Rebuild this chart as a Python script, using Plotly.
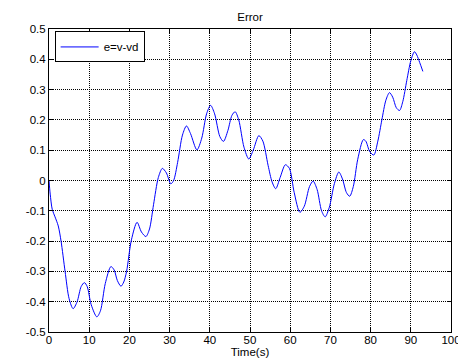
import plotly.graph_objects as go

# Tracking error e = v - vd over time
time_s = [0, 0.3, 0.8, 1.5, 2.3, 3.0, 4.0, 5.0, 6.0, 7.0, 8.0, 8.8, 9.5, 10.5,
          11.9, 12.8, 14.0, 15.4, 16.2, 17.0, 17.9, 18.6, 19.3, 20.5, 21.9,
          23.0, 24.1, 25.0, 26.0, 27.2, 28.2, 29.2, 30.3, 31.0, 32.0, 33.2,
          34.2, 35.2, 36.8, 38.0, 39.2, 40.2, 41.2, 42.5, 43.4, 44.5, 45.5,
          46.3, 47.2, 48.5, 49.7, 50.8, 52.2, 53.2, 54.5, 55.5, 56.4, 57.5,
          58.8, 59.8, 61.0, 62.4, 63.5, 64.8, 65.7, 66.7, 67.8, 68.7, 69.7,
          71.0, 72.1, 73.0, 74.0, 74.8, 75.7, 76.8, 78.2, 78.8, 79.8, 80.8,
          81.8, 82.8, 83.8, 84.7, 85.5, 86.4, 87.2, 88.0, 89.0, 90.0, 90.9,
          91.5, 92.2, 93.0]
error = [0, -0.045, -0.095, -0.12, -0.15, -0.2, -0.3, -0.39, -0.423, -0.40,
         -0.35, -0.337, -0.35, -0.41, -0.45, -0.43, -0.34, -0.284, -0.295,
         -0.33, -0.349, -0.335, -0.30, -0.196, -0.138, -0.17, -0.185, -0.16,
         -0.08, 0.01, 0.040, 0.025, -0.011, 0.0, 0.06, 0.15, 0.18, 0.155,
         0.101, 0.14, 0.22, 0.248, 0.22, 0.145, 0.129, 0.165, 0.215, 0.227,
         0.2, 0.11, 0.071, 0.1, 0.148, 0.13, 0.05, -0.005, -0.027, 0.01,
         0.052, 0.04, -0.04, -0.105, -0.085, -0.02, -0.002, -0.03, -0.1,
         -0.12, -0.09, -0.01, 0.028, 0.005, -0.04, -0.052, -0.02, 0.07,
         0.135, 0.13, 0.095, 0.084, 0.13, 0.2, 0.265, 0.29, 0.275, 0.24,
         0.231, 0.26, 0.33, 0.395, 0.425, 0.414, 0.39, 0.36]

x_ticks = [0, 10, 20, 30, 40, 50, 60, 70, 80, 90, 100]
y_ticks = [0.5, 0.4, 0.3, 0.2, 0.1, 0, -0.1, -0.2, -0.3, -0.4, -0.5]
y_tick_labels = ["0.5", "0.4", "0.3", "0.2", "0.1", "0",
                 "-0.1", "-0.2", "-0.3", "-0.4", "-0.5"]

FONT = "Liberation Sans, Arial, sans-serif"
FSIZE = 11.5

fig = go.Figure()
fig.add_trace(go.Scatter(
    x=time_s, y=error, mode="lines", name="e=v-vd",
    line=dict(color="#0000FF", width=1, shape="spline", smoothing=0.8),
))

axis_common = dict(
    showline=True, linecolor="black", linewidth=1, mirror="allticks",
    ticks="inside", ticklen=4, tickcolor="black", tickwidth=1,
    showgrid=True, gridcolor="black", gridwidth=1, griddash="1px,1px",
    zeroline=False, automargin=False, ticklabeloverflow="allow",
    tickfont=dict(family=FONT, size=FSIZE, color="black"),
)

fig.update_xaxes(
    range=[0, 100], tickvals=x_ticks,
    ticktext=[str(v) for v in x_ticks],
    title=dict(text="Time(s)", font=dict(family=FONT, size=FSIZE, color="black"),
               standoff=1),
    ticklabelstandoff=-3,
    **axis_common,
)
fig.update_yaxes(
    range=[-0.5, 0.5], tickvals=y_ticks, ticktext=y_tick_labels,
    ticklabelstandoff=0,
    **axis_common,
)

fig.update_layout(
    width=458, height=362,
    margin=dict(l=49, r=7, t=29, b=30),
    paper_bgcolor="white", plot_bgcolor="white",
    font=dict(family=FONT, size=FSIZE, color="black"),
    title=dict(text="Error", x=0.5, xref="paper", xanchor="center",
               y=1 - 16.5 / 362, yanchor="middle",
               font=dict(family=FONT, size=FSIZE, color="black")),
    showlegend=True,
    legend=dict(
        x=0.014, y=0.992, xanchor="left", yanchor="top",
        bgcolor="white", bordercolor="black", borderwidth=1,
        font=dict(family=FONT, size=FSIZE, color="black"),
        itemwidth=38, tracegroupgap=0,
    ),
)

fig.write_html("out.html")
